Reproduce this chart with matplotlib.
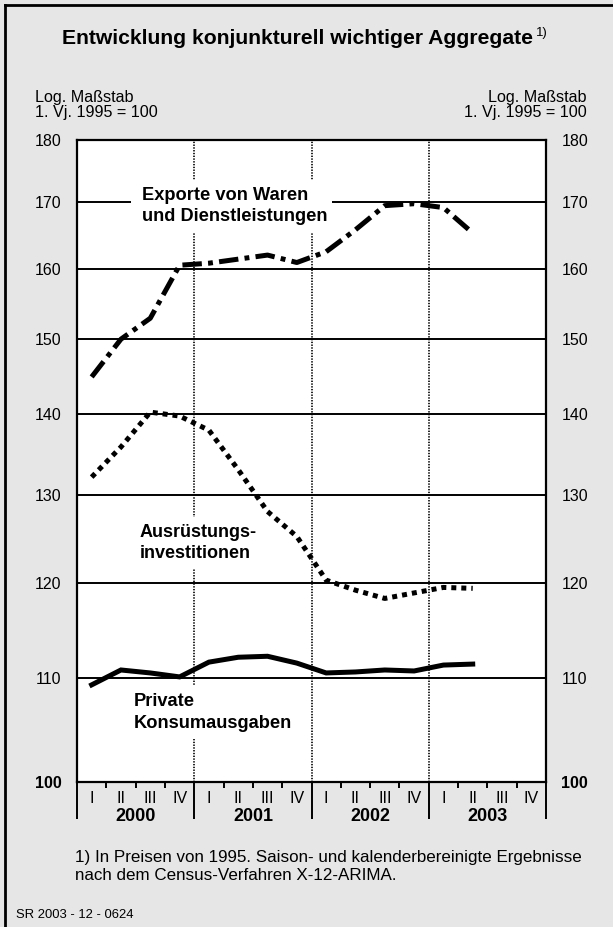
import matplotlib
matplotlib.use("Agg")
import matplotlib.pyplot as plt
import matplotlib.transforms as mtransforms
from matplotlib.lines import Line2D
from matplotlib.patches import Rectangle
from matplotlib.ticker import FixedLocator, NullFormatter, NullLocator

plt.rcParams['font.family'] = ['Liberation Sans', 'DejaVu Sans']
plt.rcParams['lines.scale_dashes'] = False

# ---- data ----
years = ["2000", "2001", "2002", "2003"]
quarters = ["I", "II", "III", "IV"]
exporte = [144.9, 150.0, 152.9, 160.5, 160.8, 161.4, 162.0, 160.9,
           162.5, 165.8, 169.5, 169.8, 169.2, 165.3]
investitionen = [132.2, 135.9, 140.3, 139.8, 138.0, 133.1, 128.1, 125.2,
                 120.3, 119.2, 118.3, 118.9, 119.5, 119.4]
konsum = [109.3, 110.8, 110.5, 110.1, 111.6, 112.1, 112.2, 111.5,
          110.5, 110.6, 110.8, 110.7, 111.3, 111.4]
yticks = [100, 110, 120, 130, 140, 150, 160, 170, 180]

BG = '#e6e6e6'
W, H = 613, 927
fig = plt.figure(figsize=(W / 100, H / 100), dpi=100, facecolor=BG)
renderer = fig.canvas.get_renderer()


def fx(x):
    return x / W


def fy(y):
    return 1 - y / H


def fit(t, target_w):
    """scale the font size of text t so that its rendered width is target_w pixels"""
    w = t.get_window_extent(renderer).width
    t.set_fontsize(t.get_fontsize() * target_w / w)
    return t


# frame lines (top and left)
fig.add_artist(Line2D([fx(4.5), fx(4.5)], [0, fy(4.5)], color='black', lw=2, transform=fig.transFigure))
fig.add_artist(Line2D([fx(4.5), 1], [fy(4.5), fy(4.5)], color='black', lw=2, transform=fig.transFigure))

L, R, T, B = 77, 546, 140, 782
ax = fig.add_axes([fx(L), fy(B), (R - L) / W, (B - T) / H])
ax.set_facecolor('white')

n = len(quarters) * len(years)
xs = [i + 0.5 for i in range(len(exporte))]

ax.set_yscale('log')
ax.set_ylim(yticks[0], yticks[-1])
ax.set_xlim(0, n)
ax.yaxis.set_major_locator(FixedLocator(yticks))
ax.yaxis.set_minor_locator(NullLocator())
ax.yaxis.set_minor_formatter(NullFormatter())
ax.set_yticks(yticks)
ax.set_yticklabels([str(v) for v in yticks])
ax.tick_params(axis='y', length=0, labelsize=11.5, labelleft=True, labelright=True, pad=11)
for lab in ax.get_yticklabels() + ax.yaxis.get_ticklabels(which='major'):
    if lab.get_text() == '100':
        lab.set_fontweight('bold')
for tk in ax.yaxis.get_major_ticks():
    if tk.label1.get_text() == '100':
        tk.label1.set_fontweight('bold')
        tk.label2.set_fontweight('bold')

ax.yaxis.grid(True, color='black', lw=1.4)

year_bounds = list(range(0, n + 1, 4))
quarter_bounds = [i for i in range(n + 1) if i % 4 != 0]
ax.set_xticks(year_bounds)
ax.set_xticks(quarter_bounds, minor=True)
ax.set_xticklabels([])
ax.tick_params(axis='x', which='major', length=26.6, width=1.4, direction='out')
ax.tick_params(axis='x', which='minor', length=4.5, width=1.4, direction='out')
ax.xaxis.grid(True, which='major', color='black', lw=1.2, linestyle=(0, (1, 1)))
ax.set_axisbelow(True)

for s in ax.spines.values():
    s.set_linewidth(1.6)
    s.set_zorder(5)

# quarter and year labels below the axis
for yi, yr in enumerate(years):
    for qi, q in enumerate(quarters):
        tr = mtransforms.blended_transform_factory(ax.transData, fig.transFigure)
        ax.text(yi * 4 + qi + 0.5, fy(803.3), q, transform=tr, ha='center', va='baseline',
                fontsize=11.5, clip_on=False)
    tr = mtransforms.blended_transform_factory(ax.transData, fig.transFigure)
    t = ax.text(yi * 4 + 2, fy(820.7), yr, transform=tr, ha='center', va='baseline',
                fontsize=12.5, fontweight='bold', clip_on=False)
    fit(t, 40)

# series
ax.plot(xs, exporte, color='black', lw=3.6, linestyle=(0, (14, 4.5, 3.5, 4.5)),
        solid_capstyle='butt', dash_capstyle='butt', zorder=4)
ax.plot(xs, investitionen, color='black', lw=3.6, linestyle=(0, (3.6, 3.6)),
        dash_capstyle='butt', zorder=4)
ax.plot(xs, konsum, color='black', lw=3.6, solid_joinstyle='miter', zorder=4)


def series_label(lines, x, baselines, widths, padl=11, padr=5, padt=7, padb=7):
    ts = []
    for s, yb, w in zip(lines, baselines, widths):
        t = ax.text(fx(x), fy(yb), s, transform=fig.transFigure, ha='left', va='baseline',
                    fontsize=12, fontweight='bold', zorder=3)
        fit(t, w)
        ts.append(t)
    fs = min(t.get_fontsize() for t in ts)
    for t in ts:
        t.set_fontsize(fs)
    exts = [t.get_window_extent(renderer) for t in ts]
    x0 = min(e.x0 for e in exts) - padl
    x1 = max(e.x1 for e in exts) + padr
    y0 = min(e.y0 for e in exts) - padb
    y1 = max(e.y1 for e in exts) + padt
    ax.add_patch(Rectangle((x0 / W, y0 / H), (x1 - x0) / W, (y1 - y0) / H,
                           transform=fig.transFigure, facecolor='white', edgecolor='none', zorder=2))


series_label(["Exporte von Waren", "und Dienstleistungen"], 141.7, [200, 220.7], [168, 185])
series_label(["Ausrüstungs-", "investitionen"], 140, [536.7, 558.3], [116.7, 111.7])
series_label(["Private", "Konsumausgaben"], 134, [705.7, 728], [None, 157.7][1:] and [70, 157.7])

# texts
tt = fig.text(fx(298), fy(44), "Entwicklung konjunkturell wichtiger Aggregate",
              ha='center', va='baseline', fontsize=14, fontweight='bold')
fit(tt, 471)
e = tt.get_window_extent(renderer)
fig.text((e.x1 + 2) / W, fy(36), "1)", ha='left', va='baseline', fontsize=tt.get_fontsize() * 0.62)

for xa, ha in ((35, 'left'), (587, 'right')):
    t1 = fig.text(fx(xa), fy(101.7), "Log. Maßstab", ha=ha, va='baseline', fontsize=11)
    fit(t1, 98)
    t2 = fig.text(fx(xa), fy(117.3), "1. Vj. 1995 = 100", ha=ha, va='baseline', fontsize=t1.get_fontsize())

f1 = fig.text(fx(75), fy(862), "1) In Preisen von 1995. Saison- und kalenderbereinigte Ergebnisse",
              ha='left', va='baseline', fontsize=11)
fit(f1, 506)
fig.text(fx(75), fy(880.5), "nach dem Census-Verfahren X-12-ARIMA.", ha='left', va='baseline',
         fontsize=f1.get_fontsize())
s1 = fig.text(fx(15.7), fy(918.3), "SR 2003 - 12 - 0624", ha='left', va='baseline', fontsize=9)
fit(s1, 117)

fig.savefig("out.png", dpi=100, facecolor=BG)
